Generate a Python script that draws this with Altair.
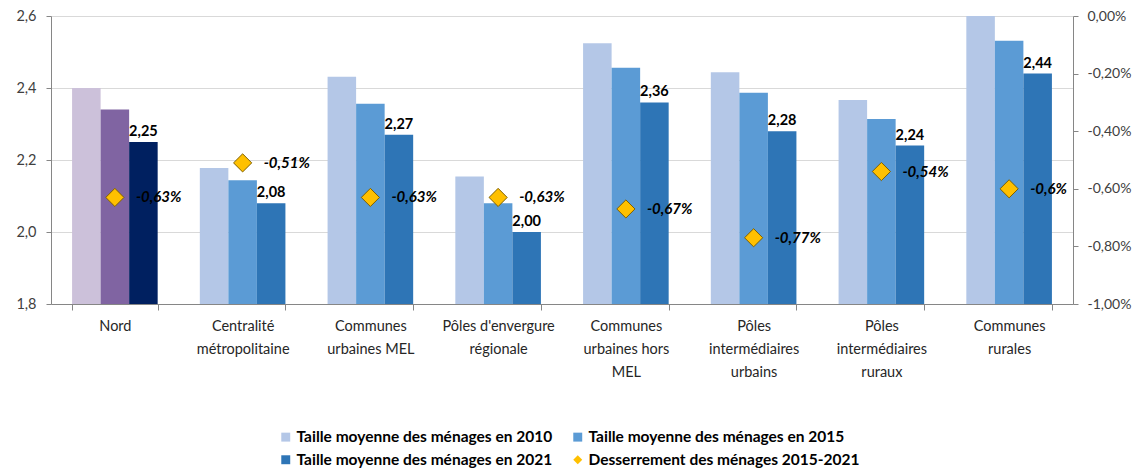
import altair as alt
import pandas as pd

# ---- data ----
categories = [
    "Nord",
    "Centralité|métropolitaine",
    "Communes|urbaines MEL",
    "Pôles d'envergure|régionale",
    "Communes|urbaines hors|MEL",
    "Pôles|intermédiaires|urbains",
    "Pôles|intermédiaires|ruraux",
    "Communes|rurales",
]
years = ["2010", "2015", "2021"]
taille_2010 = [2.40, 2.178, 2.431, 2.154, 2.524, 2.444, 2.367, 2.60]
taille_2015 = [2.34, 2.144, 2.356, 2.080, 2.456, 2.387, 2.314, 2.531]
taille_2021 = [2.25, 2.08, 2.27, 2.00, 2.36, 2.28, 2.24, 2.44]
desserrement = [-0.63, -0.51, -0.63, -0.63, -0.67, -0.77, -0.54, -0.6]

colors_nord = ["#CCC1DA", "#8064A2", "#002060"]
colors_autres = ["#B4C7E7", "#5B9BD5", "#2E75B6"]

# legend entries (column-major order so that rows read 2010 | 2015, 2021 | desserrement)
legend_labels = [
    "Taille moyenne des ménages en 2010",
    "Taille moyenne des ménages en 2021",
    "Taille moyenne des ménages en 2015",
    "Desserrement des ménages 2015-2021",
]
legend_colors = ["#B4C7E7", "#2E75B6", "#5B9BD5", "#FFC000"]
legend_shapes = ["square", "square", "square", "diamond"]

FONT = "Lato"

# ---- tables ----
rows = []
series = [taille_2010, taille_2015, taille_2021]
for i, cat in enumerate(categories):
    for j, yr in enumerate(years):
        v = series[j][i]
        rows.append({
            "categorie": cat,
            "annee": yr,
            "valeur": v,
            "couleur": (colors_nord if i == 0 else colors_autres)[j],
            "etiquette": f"{v:.2f}".replace(".", ","),
        })
df_bars = pd.DataFrame(rows)

df_pts = pd.DataFrame({
    "categorie": categories,
    "pct": desserrement,
    "serie": [legend_labels[3]] * len(categories),
    "etiquette": [str(v).replace(".", ",") + "%" for v in desserrement],
})

# the same x definition in every layer so the shared axis merges cleanly
x_enc = alt.X(
    "categorie:N",
    sort=categories,
    scale=alt.Scale(paddingInner=0.33, paddingOuter=0.165),
    axis=alt.Axis(
        title=None,
        labelAngle=0,
        labelExpr="split(datum.label, '|')",
        labelFont=FONT,
        labelFontSize=14.5,
        labelColor="#262626",
        labelLineHeight=23,
        labelPadding=9,
        labelLimit=300,
        tickBand="extent",
        tickSize=6,
        tickColor="#868686",
        domainColor="#868686",
        grid=False,
    ),
)
xoff = alt.XOffset("annee:N", sort=years, scale=alt.Scale(paddingInner=0, paddingOuter=0))

y_left_scale = alt.Scale(domain=[1.8, 2.6], zero=False, nice=False)
y_right_scale = alt.Scale(domain=[-1.0, 0.0], zero=False, nice=False)

bars = alt.Chart(df_bars).mark_bar(clip=True).encode(
    x=x_enc,
    xOffset=xoff,
    y=alt.Y(
        "valeur:Q",
        stack=None,
        scale=y_left_scale,
        axis=alt.Axis(
            title=None,
            orient="left",
            values=[1.8, 2.0, 2.2, 2.4, 2.6],
            labelExpr="replace(format(datum.value, '.1f'), '.', ',')",
            labelFont=FONT,
            labelFontSize=14.5,
            labelColor="#404040",
            grid=True,
            gridColor="#D9D9D9",
            domainColor="#868686",
            tickColor="#868686",
            tickSize=5,
            labelPadding=10,
        ),
    ),
    fill=alt.Fill("couleur:N", scale=None),
)

bar_text = alt.Chart(df_bars).transform_filter(
    alt.datum.annee == "2021"
).mark_text(
    font=FONT, fontSize=14.5, fontWeight="bold", color="black", baseline="bottom", dy=-3
).encode(
    x=x_enc,
    xOffset=xoff,
    y=alt.Y("valeur:Q", stack=None, scale=y_left_scale, axis=None),
    text="etiquette:N",
)

leg = alt.Legend(
    title=None,
    orient="none",
    legendX=227,
    legendY=413,
    columns=2,
    labelFont=FONT,
    labelFontSize=15.5,
    labelFontWeight="bold",
    labelColor="black",
    labelLimit=400,
    labelOffset=3,
    symbolSize=80,
    symbolStrokeWidth=0,
    columnPadding=17,
    rowPadding=6,
)

pts = alt.Chart(df_pts).mark_point(
    filled=True, size=330, opacity=1, stroke="#7F6000", strokeWidth=1
).encode(
    x=x_enc,
    y=alt.Y(
        "pct:Q",
        scale=y_right_scale,
        axis=alt.Axis(
            title=None,
            orient="right",
            values=[-1.0, -0.8, -0.6, -0.4, -0.2, 0.0],
            labelExpr="(datum.value < 0 ? '-' : '') + replace(format(abs(datum.value), '.2f'), '.', ',') + '%'",
            labelFont=FONT,
            labelFontSize=14,
            labelColor="#404040",
            grid=False,
            domainColor="#868686",
            tickColor="#868686",
            tickSize=5,
            labelPadding=9,
        ),
    ),
    color=alt.Color("serie:N", scale=alt.Scale(domain=legend_labels, range=legend_colors), legend=leg),
    shape=alt.Shape("serie:N", scale=alt.Scale(domain=legend_labels, range=legend_shapes), legend=leg),
)

pt_text = alt.Chart(df_pts).mark_text(
    font=FONT, fontSize=15, fontWeight="bold", fontStyle="italic", color="black",
    align="left", baseline="middle", dx=21
).encode(
    x=x_enc,
    y=alt.Y("pct:Q", scale=y_right_scale, axis=None),
    text="etiquette:N",
)

chart = alt.layer(bars, bar_text, pts, pt_text).resolve_scale(y="independent").properties(
    width=1022,
    height=288,
    autosize=alt.AutoSizeParams(type="none"),
    padding={"left": 43, "top": 8, "right": 64, "bottom": 164},
    background="white",
).configure_view(stroke=None)

chart.save("out.html", embed_options={"renderer": "svg", "actions": False})
